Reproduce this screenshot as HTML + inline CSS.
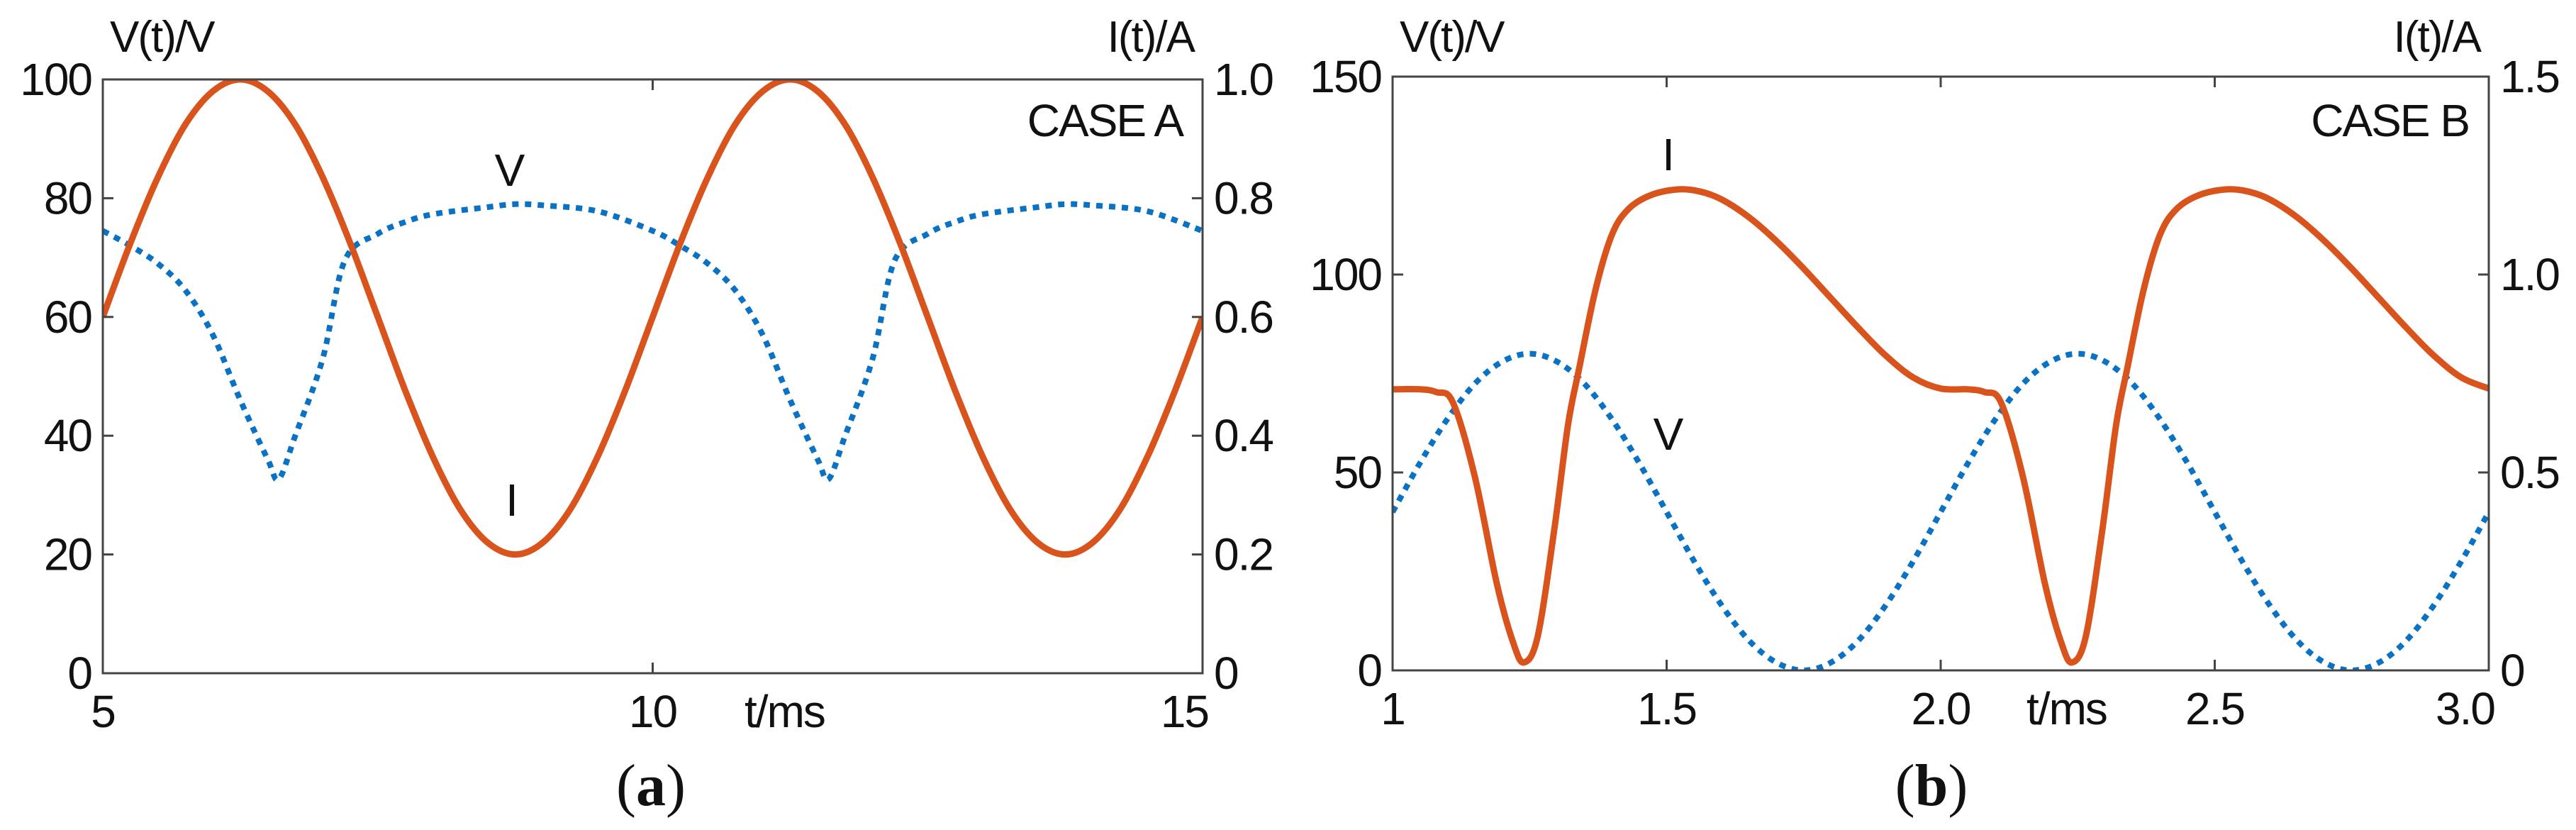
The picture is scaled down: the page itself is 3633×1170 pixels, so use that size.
<!DOCTYPE html>
<html><head><meta charset="utf-8">
<style>
html,body{margin:0;padding:0;background:#fff;}
svg{display:block;}
text{font-family:"Liberation Sans",sans-serif;fill:#111;letter-spacing:-2px;}
</style></head>
<body>
<svg id="chart" width="3633" height="1170" viewBox="0 0 3633 1170" xmlns="http://www.w3.org/2000/svg">
<g id="panelA"></g>
<g id="panelB"></g>
</svg>
<script>
// ---- Panel A data ----
const aTimeI = [5,5.25,5.5,5.75,6,6.25,6.5,6.75,7,7.25,7.5,7.75,8,8.25,8.5,8.75,9,9.25,9.5,9.75,10,10.25,10.5,10.75,11,11.25,11.5,11.75,12,12.25,12.5,12.75,13,13.25,13.5,13.75,14,14.25,14.5,14.75,15];
const aCurrent = [0.60,0.724,0.835,0.924,0.98,1.0,0.98,0.924,0.835,0.724,0.60,0.476,0.365,0.276,0.22,0.20,0.22,0.276,0.365,0.476,0.60,0.724,0.835,0.924,0.98,1.0,0.98,0.924,0.835,0.724,0.60,0.476,0.365,0.276,0.22,0.20,0.22,0.276,0.365,0.476,0.60];
const aTimeV = [5,5.25,5.5,5.75,6,6.25,6.5,6.6,6.75,7,7.2,7.5,7.75,8,8.5,8.75,9,9.5,10,10.25,10.5,10.75,11,11.25,11.5,11.6,11.75,12,12.2,12.5,12.75,13,13.5,13.75,14,14.5,15];
const aVoltage = [74.5,72,69,64.5,57,46,36,32.7,40,53,69.5,74,76,77.3,78.5,79,78.8,77.8,74.5,72,69,64.5,57,46,36,32.7,40,53,69.5,74,76,77.3,78.5,79,78.8,77.8,74.5];
const aXTicks = [5,10,15];
const aXTickLabels = ["5","10","15"];
const aYTicks = [0,20,40,60,80,100];
const aYTickLabels = ["0","20","40","60","80","100"];
const aY2TickLabels = ["0","0.2","0.4","0.6","0.8","1.0"];

// ---- Panel B data ----
const bTimeI = [1,1.05,1.08,1.11,1.15,1.19,1.22,1.24,1.265,1.295,1.32,1.34,1.37,1.4,1.43,1.47,1.52,1.56,1.6,1.65,1.7,1.75,1.8,1.85,1.9,1.95,2,2.05,2.08,2.11,2.15,2.19,2.22,2.24,2.265,2.295,2.32,2.34,2.37,2.4,2.43,2.47,2.52,2.56,2.6,2.65,2.7,2.75,2.8,2.85,2.9,2.95,3];
const bCurrent = [0.71,0.71,0.703,0.677,0.49,0.22,0.07,0.02,0.087,0.355,0.62,0.76,0.96,1.10,1.165,1.20,1.215,1.21,1.19,1.145,1.085,1.015,0.94,0.865,0.795,0.74,0.712,0.71,0.703,0.677,0.49,0.22,0.07,0.02,0.087,0.355,0.62,0.76,0.96,1.10,1.165,1.20,1.215,1.21,1.19,1.145,1.085,1.015,0.94,0.865,0.795,0.74,0.712];
const bTimeV = [1,1.05,1.1,1.15,1.2,1.25,1.3,1.35,1.4,1.45,1.5,1.55,1.6,1.65,1.7,1.75,1.8,1.85,1.9,1.95,2,2.05,2.1,2.15,2.2,2.25,2.3,2.35,2.4,2.45,2.5,2.55,2.6,2.65,2.7,2.75,2.8,2.85,2.9,2.95,3];
const bVoltage = [40,52.4,63.5,72.4,78,80,78,72.4,63.5,52.4,40,27.6,16.5,7.6,2,0,2,7.6,16.5,27.6,40,52.4,63.5,72.4,78,80,78,72.4,63.5,52.4,40,27.6,16.5,7.6,2,0,2,7.6,16.5,27.6,40];
const bXTicks = [1,1.5,2,2.5,3];
const bXTickLabels = ["1","1.5","2.0","2.5","3.0"];
const bYTicks = [0,50,100,150];
const bYTickLabels = ["0","50","100","150"];
const bY2TickLabels = ["0","0.5","1.0","1.5"];

const NS = "http://www.w3.org/2000/svg";
function mk(parent, tag, attrs){
  const e = document.createElementNS(NS, tag);
  for (const k in attrs) e.setAttribute(k, attrs[k]);
  parent.appendChild(e); return e;
}
function smoothPath(pts){
  let d = "M" + pts[0][0].toFixed(1) + "," + pts[0][1].toFixed(1);
  for (let i=0;i<pts.length-1;i++){
    const p0=pts[Math.max(0,i-1)], p1=pts[i], p2=pts[i+1], p3=pts[Math.min(pts.length-1,i+2)];
    const c1x=p1[0]+(p2[0]-p0[0])/6, c1y=p1[1]+(p2[1]-p0[1])/6;
    const c2x=p2[0]-(p3[0]-p1[0])/6, c2y=p2[1]-(p3[1]-p1[1])/6;
    d += " C"+c1x.toFixed(1)+","+c1y.toFixed(1)+" "+c2x.toFixed(1)+","+c2y.toFixed(1)+" "+p2[0].toFixed(1)+","+p2[1].toFixed(1);
  }
  return d;
}

function drawPanel(g, cfg){
  const sx = t => cfg.x0 + (t - cfg.tmin)/(cfg.tmax - cfg.tmin)*(cfg.x1 - cfg.x0);
  const sy = v => cfg.y1 - (v - 0)/(cfg.vmax)*(cfg.y1 - cfg.y0);
  const si = a => sy(a*cfg.iScale);
  const clip = mk(g,"clipPath",{id:cfg.id+"clip"});
  mk(clip,"rect",{x:cfg.x0,y:cfg.y0-1,width:cfg.x1-cfg.x0,height:cfg.y1-cfg.y0+2});

  const vp = cfg.tv.map((t,i)=>[sx(t), sy(cfg.v[i])]);
  const vl = mk(g,"path",{d:smoothPath(vp),fill:"none",stroke:"#0a72c4","stroke-width":8,"stroke-dasharray":"9 9","clip-path":"url(#"+cfg.id+"clip)"});
  
  
  const ip = cfg.ti.map((t,i)=>[sx(t), si(cfg.i[i])]);
  const il = mk(g,"path",{d:smoothPath(ip),fill:"none",stroke:"#d9531c","stroke-width":9,"stroke-linejoin":"round","clip-path":"url(#"+cfg.id+"clip)"});
  
  

  const fr = mk(g,"rect",{x:cfg.x0,y:cfg.y0,width:cfg.x1-cfg.x0,height:cfg.y1-cfg.y0,fill:"none",stroke:"#444","stroke-width":3});
  
  

  cfg.yt.forEach((v,k)=>{
    const y = sy(v);
    mk(g,"line",{x1:cfg.x0,x2:cfg.x0+15,y1:y,y2:y,stroke:"#444","stroke-width":3});
    mk(g,"line",{x1:cfg.x1,x2:cfg.x1-15,y1:y,y2:y,stroke:"#444","stroke-width":3});
    const tl = mk(g,"text",{x:cfg.x0-16,y:y+22,"font-size":64,"text-anchor":"end"});
    tl.textContent = cfg.ytl[k];
    
    
    const tr = mk(g,"text",{x:cfg.x1+16,y:y+22,"font-size":64,"text-anchor":"start"});
    tr.textContent = cfg.y2tl[k];
    
    
  });
  cfg.xt.forEach((t,k)=>{
    const x = sx(t);
    mk(g,"line",{x1:x,x2:x,y1:cfg.y1,y2:cfg.y1-15,stroke:"#444","stroke-width":3});
    mk(g,"line",{x1:x,x2:x,y1:cfg.y0,y2:cfg.y0+15,stroke:"#444","stroke-width":3});
    const anchor = (k===cfg.xt.length-1) ? "end" : "middle";
    const xl = mk(g,"text",{x: anchor==="end"? x+8 : x, y:cfg.y1+76,"font-size":64,"text-anchor":anchor});
    xl.textContent = cfg.xtl[k];
    
    
  });
  const tms = mk(g,"text",{x:cfg.tmsX,y:cfg.y1+76,"font-size":64});
  tms.textContent = "t/ms";
  
  

  const vt = mk(g,"text",{x:cfg.x0+10,y:73,"font-size":62});
  vt.textContent = "V(t)/V";
  
  
  const it = mk(g,"text",{x:cfg.x1-12,y:73,"font-size":62,"text-anchor":"end"});
  it.textContent = "I(t)/A";
  
  

  const cs = mk(g,"text",{x:cfg.x1-28,y:192,"font-size":64,"text-anchor":"end"});
  cs.textContent = cfg.caseText;
  
  

  const lv = mk(g,"text",{x:cfg.vLab[0],y:cfg.vLab[1],"font-size":64,"text-anchor":"middle"});
  lv.textContent = "V";
  
  
  const li = mk(g,"text",{x:cfg.iLab[0],y:cfg.iLab[1],"font-size":64,"text-anchor":"middle"});
  li.textContent = "I";
  
  

  const cap = mk(g,"text",{x:cfg.capX,y:1135,"font-size":84,"text-anchor":"middle",style:"font-family:'Liberation Serif',serif;letter-spacing:0"});
  cap.innerHTML = '(<tspan font-weight="bold">'+cfg.capLetter+'</tspan>)';
  
  
}

drawPanel(document.getElementById("panelA"), {
  id:"a", x0:145, x1:1696, y0:112, y1:949, tmin:5, tmax:15, vmax:100, iScale:100,
  ti:aTimeI, i:aCurrent, tv:aTimeV, v:aVoltage,
  xt:aXTicks, xtl:aXTickLabels, yt:aYTicks, ytl:aYTickLabels, y2tl:aY2TickLabels,
  tmsX:1050, caseText:"CASE A", vLab:[718,262], iLab:[721,727], capX:918, capLetter:"a"
});
drawPanel(document.getElementById("panelB"), {
  id:"b", x0:1964, x1:3510, y0:108, y1:945, tmin:1, tmax:3, vmax:150, iScale:100,
  ti:bTimeI, i:bCurrent, tv:bTimeV, v:bVoltage,
  xt:bXTicks, xtl:bXTickLabels, yt:bYTicks, ytl:bYTickLabels, y2tl:bY2TickLabels,
  tmsX:2858, caseText:"CASE B", vLab:[2352,634], iLab:[2352,240], capX:2724, capLetter:"b"
});
</script>
</body></html>
